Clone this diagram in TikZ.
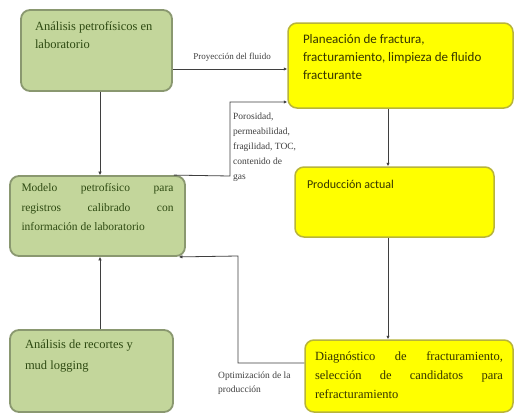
\documentclass[tikz,border=0pt]{standalone}
\usepackage{fontspec}
\setmainfont{Liberation Serif}
\newfontfamily\sansf{Carlito}
\usetikzlibrary{arrows.meta}
\definecolor{gfill}{HTML}{C3D69B}
\definecolor{gline}{HTML}{8A9870}
\definecolor{gtext}{HTML}{2E4A12}
\definecolor{yfill}{HTML}{FFFF00}
\definecolor{yline}{HTML}{B8B43A}
\definecolor{ytext}{HTML}{353500}
\definecolor{cline}{HTML}{3F3F3F}
\newcommand{\bx}[3]{\parbox[c][#1][t]{#2}{\strut#3}}
\begin{document}
\begin{tikzpicture}[x=1pt,y=-1pt,
  gbox/.style={draw=gline, fill=gfill, line width=1.8pt, rounded corners=9pt, text=gtext},
  ybox/.style={draw=yline, fill=yfill, line width=1.5pt, rounded corners=9pt, text=ytext},
  conn/.style={draw=cline, line width=0.8pt, -{Latex[length=3.5pt,width=3.5pt]}},
  lbl/.style={text=black!75, inner sep=0pt, font=\fontsize{9.5}{15}\selectfont, align=left}]
\useasboundingbox[fill=white] (0,0) rectangle (515,413);

\node[gbox, inner xsep=14pt, inner ysep=8pt, font=\fontsize{12.5}{18}\selectfont] (a1) at (96.5,50.5)
  {\bx{65pt}{123pt}{\raggedright Análisis petrofísicos en\\ laboratorio}};
\node[ybox, inner xsep=15pt, inner ysep=8pt, font=\sansf\fontsize{13}{18}\selectfont] (p1) at (400.5,65.5)
  {\bx{69pt}{195pt}{\raggedright Planeación de fractura,\\ fracturamiento, limpieza de fluido\\ fracturante}};
\node[gbox, inner xsep=11.5pt, inner ysep=2pt, font=\fontsize{11.5}{19.5}\selectfont] (m) at (97.5,216)
  {\bx{76pt}{152pt}{Modelo petrofísico para\linebreak registros calibrado con\linebreak información de laboratorio}};
\node[ybox, inner xsep=12pt, inner ysep=9pt, font=\sansf\fontsize{12}{18}\selectfont] (pa) at (394.5,202)
  {\bx{52pt}{175pt}{\raggedright Producción actual}};
\node[gbox, inner xsep=15pt, inner ysep=4pt, font=\fontsize{12.5}{21}\selectfont] (r) at (91.5,371)
  {\bx{74pt}{133pt}{\raggedright Análisis de recortes y\\ mud logging}};
\node[ybox, inner xsep=10pt, inner ysep=7pt, font=\fontsize{12.5}{19}\selectfont] (d) at (409,376)
  {\bx{58pt}{188pt}{Diagnóstico de fracturamiento,\linebreak selección de candidatos para\linebreak refracturamiento}};

\node[lbl, font=\fontsize{9}{15}\selectfont] (l1) at (232,57) {Proyección del fluido};
\node[lbl, anchor=north west] (l2) at (233,113) {Porosidad,\\ permeabilidad,\\ fragilidad, TOC,\\ contenido de\\ gas};
\node[lbl, anchor=north west, font=\fontsize{9.5}{14}\selectfont] (l3) at (218,372) {Optimización de la\\ producción};

\draw[conn] (a1.east |- 0,69) -- (p1.west |- 0,69);
\draw[conn] ([xshift=-12pt]m.north east) -- (230,176) |- (p1.west |- 0,102);
\draw[conn] (a1.south -| 100,0) -- (m.north -| 100,0);
\draw[conn] (r.north -| 100,0) -- (m.south -| 100,0);
\draw[conn] (p1.south -| 388,0) -- (pa.north -| 388,0);
\draw[conn] (pa.south -| 388,0) -- (d.north -| 388,0);
\draw[conn] (d.west |- 0,363) -| (238,256) -- ([xshift=-7pt]m.south east);
\end{tikzpicture}
\end{document}
